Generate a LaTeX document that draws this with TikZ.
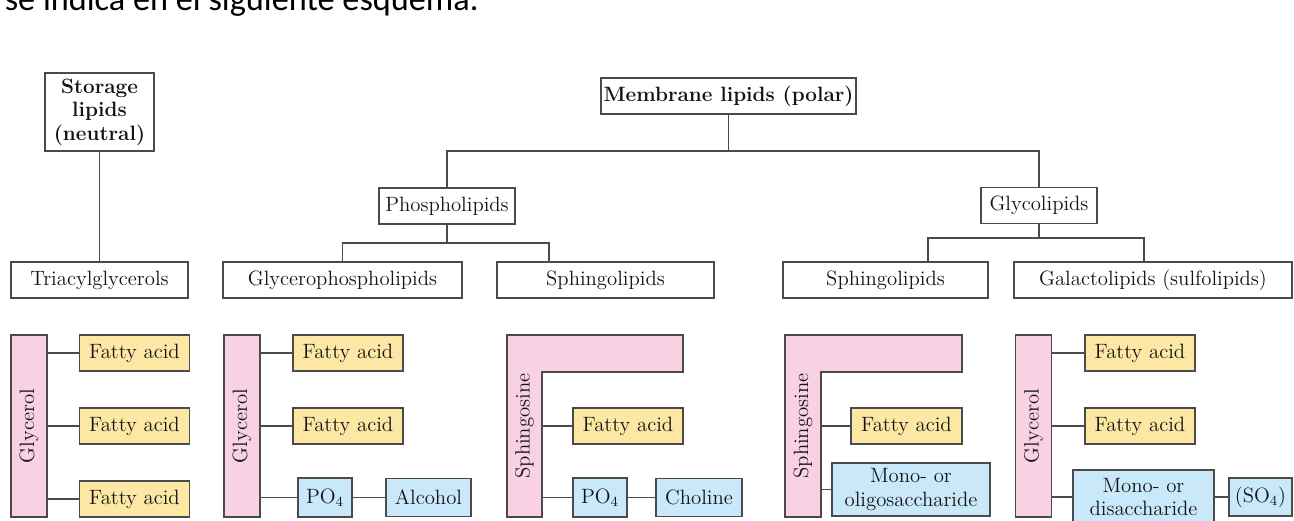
\documentclass[tikz,border=0pt]{standalone}
\usepackage{fontspec}
\newfontfamily\capfont{Carlito}
\usepackage{tikz}
\usetikzlibrary{positioning}
\definecolor{linegray}{RGB}{75,75,75}
\definecolor{textgray}{RGB}{20,20,20}
\definecolor{pinkfill}{RGB}{248,209,226}
\definecolor{yellowfill}{RGB}{252,232,164}
\definecolor{bluefill}{RGB}{201,233,250}
\tikzstyle{tbox} = [rectangle, draw=linegray, line width=0.95pt, fill=white, minimum height=0.72cm, inner sep=0pt, text=textgray, align=center]
\tikzstyle{bar} = [rectangle, draw=linegray, line width=0.95pt, fill=pinkfill, minimum width=0.72cm, minimum height=3.64cm, inner sep=0pt, text=textgray]
\tikzstyle{fatty} = [rectangle, draw=linegray, line width=0.95pt, fill=yellowfill, minimum width=2.2cm, minimum height=0.72cm, inner sep=0pt, text=textgray]
\tikzstyle{head} = [rectangle, draw=linegray, line width=0.95pt, fill=bluefill, minimum height=0.76cm, inner sep=0pt, text=textgray, align=center]
\tikzstyle{elbow} = [draw=linegray, line width=0.95pt, fill=pinkfill, line join=miter]
\tikzstyle{link} = [draw=linegray, line width=0.95pt]

\begin{document}
\begin{tikzpicture}[font=\fontsize{11.8}{13.4}\selectfont]
    \useasboundingbox (0,0) rectangle (25.88,-10.42);
    \clip (0,0) rectangle (25.88,-10.42);
    \node(caption)[anchor=base west, inner sep=0pt, font=\capfont\fontsize{19.5}{20}\selectfont] at (0.09,-0.21) {se indica en el siguiente esquema.};
    % classes
    \node(storage)[tbox, minimum width=2.18cm, minimum height=1.56cm] at (1.99,-2.24) {\textbf{Storage}\\\textbf{lipids}\\\textbf{(neutral)}};
    \node(triacyl)[tbox, minimum width=3.54cm, node distance=3.36cm, below of=storage] {Triacylglycerols};
    \node(membrane)[tbox, minimum width=5.10cm] at (14.57,-1.92) {\textbf{Membrane lipids (polar)}};
    \node(phospho)[tbox, minimum width=2.72cm] at (8.94,-4.12) {Phospholipids};
    \node(glyco)[tbox, minimum width=2.32cm] at (20.78,-4.11) {Glycolipids};
    \node(glyphos)[tbox, minimum width=4.78cm] at (6.85,-5.60) {Glycerophospholipids};
    \node(sphingoA)[tbox, minimum width=4.34cm] at (12.11,-5.60) {Sphingolipids};
    \node(sphingoB)[tbox, minimum width=4.10cm] at (17.71,-5.60) {Sphingolipids};
    \node(galacto)[tbox, minimum width=5.56cm] at (23.06,-5.60) {Galactolipids (sulfolipids)};
    %
    \coordinate(mj) at (14.57,-3.02);
    \coordinate(pj) at (8.94,-4.86);
    \coordinate(gj) at (20.78,-4.76);
    \draw[link](storage) -- (triacyl);
    \draw[link](membrane) -- (mj);
    \draw[link](phospho) |- (mj) -| (glyco);
    \draw[link](phospho) -- (pj);
    \draw[link](glyphos) |- (pj) -| ([xshift=-1.13cm]sphingoA.north);
    \draw[link](glyco) -- (gj);
    \draw[link]([xshift=0.85cm]sphingoB.north) |- (gj) -| ([xshift=-0.18cm]galacto.north);
    % triacylglycerol
    \node(glycA)[bar] at (0.58,-8.52) {\rotatebox{90}{Glycerol}};
    \node(faA2)[fatty, node distance=2.11cm, right of=glycA] {Fatty acid};
    \node(faA1)[fatty, node distance=1.46cm, above of=faA2] {Fatty acid};
    \node(faA3)[fatty, node distance=1.46cm, below of=faA2] {Fatty acid};
    \draw[link](glycA.east |- faA1) -- (faA1);
    \draw[link](glycA.east |- faA2) -- (faA2);
    \draw[link](glycA.east |- faA3) -- (faA3);
    % glycerophospholipid
    \node(glycB)[bar] at (4.84,-8.52) {\rotatebox{90}{Glycerol}};
    \node(faB2)[fatty, node distance=2.12cm, right of=glycB] {Fatty acid};
    \node(faB1)[fatty, node distance=1.46cm, above of=faB2] {Fatty acid};
    \node(poB)[head, minimum width=1.08cm, minimum height=0.78cm] at (6.50,-9.95) {PO$_4$};
    \node(alcB)[head, minimum width=1.70cm, node distance=2.07cm, right of=poB] {Alcohol};
    \draw[link](glycB.east |- faB1) -- (faB1);
    \draw[link](glycB.east |- faB2) -- (faB2);
    \draw[link](glycB.east |- poB) -- (poB);
    \draw[link](poB) -- (alcB);
    % sphingolipid (phospho)
    \path[elbow] (10.14,-6.70) -- (13.66,-6.70) -- (13.66,-7.44) -- (10.84,-7.44) -- (10.84,-10.34) -- (10.14,-10.34) -- cycle;
    \node(sphC)[minimum width=0.70cm, minimum height=3.64cm, inner sep=0pt, text=textgray] at (10.49,-8.52) {\rotatebox{90}{Sphingosine}};
    \node(faC)[fatty, node distance=2.07cm, right of=sphC] {Fatty acid};
    \node(poC)[head, minimum width=1.08cm, minimum height=0.78cm] at (12.00,-9.95) {PO$_4$};
    \node(cholC)[head, minimum width=1.72cm, node distance=1.98cm, right of=poC] {Choline};
    \draw[link](sphC.east |- faC) -- (faC);
    \draw[link](sphC.east |- poC) -- (poC);
    \draw[link](poC) -- (cholC);
    % sphingolipid (glyco)
    \path[elbow] (15.70,-6.70) -- (19.24,-6.70) -- (19.24,-7.44) -- (16.42,-7.44) -- (16.42,-10.34) -- (15.70,-10.34) -- cycle;
    \node(sphD)[minimum width=0.72cm, minimum height=3.64cm, inner sep=0pt, text=textgray] at (16.06,-8.52) {\rotatebox{90}{Sphingosine}};
    \node(faD)[fatty, minimum width=2.22cm, node distance=2.07cm, right of=sphD] {Fatty acid};
    \node(sacD)[head, minimum width=3.16cm, minimum height=1.06cm] at (18.22,-9.79) {Mono- or\\oligosaccharide};
    \draw[link](sphD.east |- faD) -- (faD);
    \draw[link](sphD.east |- sacD) -- (sacD);
    % galactolipid
    \node(glycE)[bar] at (20.67,-8.52) {\rotatebox{90}{Glycerol}};
    \node(faE2)[fatty, node distance=2.13cm, right of=glycE] {Fatty acid};
    \node(faE1)[fatty, node distance=1.46cm, above of=faE2] {Fatty acid};
    \node(sacE)[head, minimum width=2.82cm, minimum height=1.08cm] at (22.87,-9.94) {Mono- or\\disaccharide};
    \node(soE)[head, minimum width=1.26cm, node distance=2.34cm, right of=sacE] {(SO$_4$)};
    \draw[link](glycE.east |- faE1) -- (faE1);
    \draw[link](glycE.east |- faE2) -- (faE2);
    \draw[link](glycE.east |- sacE) -- (sacE);
    \draw[link](sacE) -- (soE);
\end{tikzpicture}
\end{document}
